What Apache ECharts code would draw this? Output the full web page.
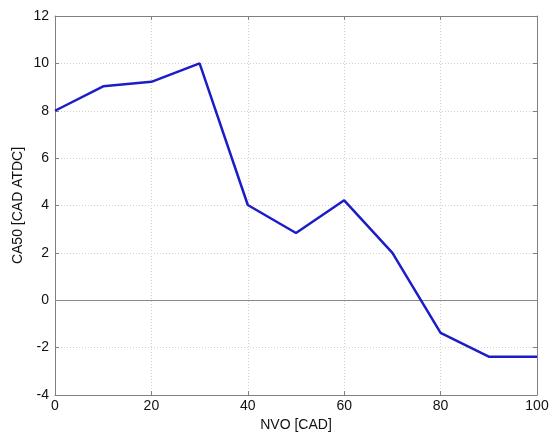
<!DOCTYPE html>
<html><head><meta charset="utf-8">
<script src="https://cdn.jsdelivr.net/npm/echarts@6/dist/echarts.min.js"></script>
<style>html,body{margin:0;padding:0;background:#fff}#c{width:554px;height:432px}</style>
</head><body><div id="c"></div>
<script>
var nvo = [0, 10, 20, 30, 40, 50, 60, 70, 80, 90, 100];
var ca50 = [8, 9.03, 9.22, 10, 4.02, 2.84, 4.22, 2.0, -1.38, -2.38, -2.38];
var xTicks = [0, 20, 40, 60, 80, 100];
var yTicks = [-4, -2, 0, 2, 4, 6, 8, 10, 12];

var chart = echarts.init(document.getElementById('c'));
var font = 'Liberation Sans, Arial, sans-serif';
var axisLine = {show: true, onZero: false, lineStyle: {color: '#808080', width: 1}};
var split = {show: true, lineStyle: {color: '#d0d0d0', type: [1, 2], width: 1}};
var tick = {show: true, inside: true, length: 4, lineStyle: {color: '#808080'}};
chart.setOption({
  animation: false,
  grid: {left: 55, right: 17, top: 16, bottom: 37, containLabel: false, outerBoundsMode: 'none'},
  xAxis: [{
    type: 'value', min: 0, max: 100, interval: 20,
    name: 'NVO [CAD]', nameLocation: 'middle', nameGap: 22,
    nameTextStyle: {fontFamily: font, fontSize: 14, color: '#111'},
    axisLine: axisLine, axisTick: tick,
    axisLabel: {fontFamily: font, fontSize: 14, color: '#111', margin: 4,
      formatter: function (v) { return xTicks.indexOf(v) >= 0 ? String(v) : ''; }},
    splitLine: split
  }, {
    type: 'value', min: 0, max: 100, interval: 20, position: 'top',
    axisLine: axisLine, axisTick: tick,
    axisLabel: {show: false}, splitLine: {show: false}
  }],
  yAxis: [{
    type: 'value', min: -4, max: 12, interval: 2,
    name: 'CA50 [CAD ATDC]', nameLocation: 'middle', nameGap: 30, nameRotate: 90,
    nameMoveOverlap: false,
    nameTextStyle: {fontFamily: font, fontSize: 14, color: '#111'},
    axisLine: axisLine, axisTick: tick,
    axisLabel: {fontFamily: font, fontSize: 14, color: '#111', margin: 6,
      formatter: function (v) { return yTicks.indexOf(v) >= 0 ? String(v) : ''; }},
    splitLine: split
  }, {
    type: 'value', min: -4, max: 12, interval: 2, position: 'right',
    axisLine: axisLine, axisTick: tick,
    axisLabel: {show: false}, splitLine: {show: false}
  }],
  series: [{
    type: 'line',
    data: nvo.map(function (x, i) { return [x, ca50[i]]; }),
    showSymbol: false,
    lineStyle: {color: '#1c1cc8', width: 2.5},
    itemStyle: {color: '#1c1cc8'},
    z: 5,
    markLine: {
      silent: true, symbol: 'none', label: {show: false},
      lineStyle: {color: '#8a8a8a', type: 'solid', width: 1.2},
      data: [{yAxis: 0}]
    }
  }]
});
</script></body></html>
